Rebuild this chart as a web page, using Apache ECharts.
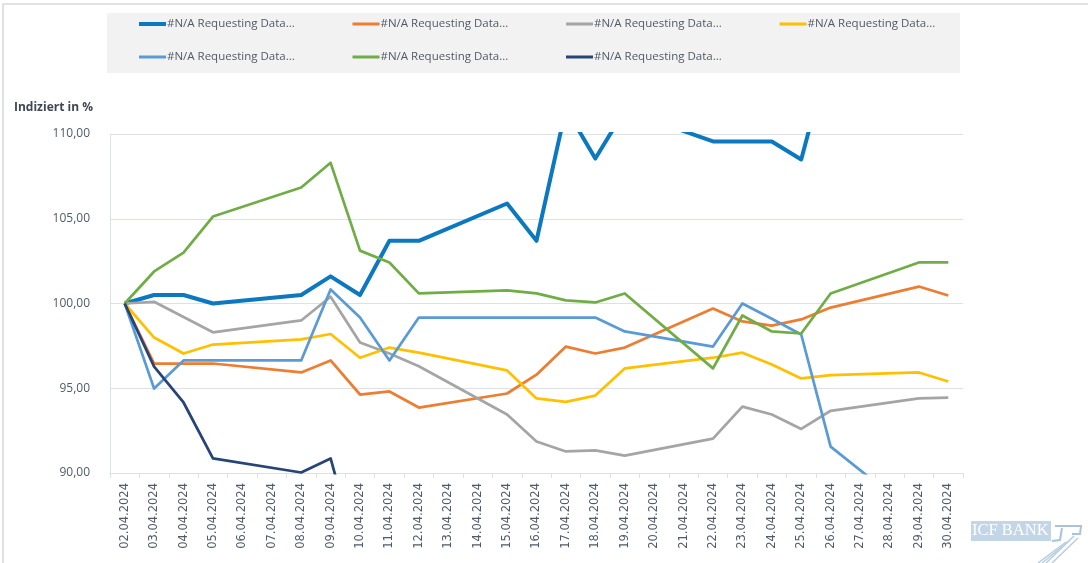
<!DOCTYPE html>
<html>
<head>
<meta charset="utf-8">
<script src="https://cdn.jsdelivr.net/npm/echarts@6/dist/echarts.min.js"></script>
<style>
  html, body { margin: 0; padding: 0; background: #fff; }
  #chart { width: 1088px; height: 563px; }
</style>
</head>
<body>
<div id="chart"></div>
<script>
const dates = [
  '02.04.2024', '03.04.2024', '04.04.2024', '05.04.2024', '06.04.2024', '07.04.2024', '08.04.2024',
  '09.04.2024', '10.04.2024', '11.04.2024', '12.04.2024', '13.04.2024', '14.04.2024', '15.04.2024',
  '16.04.2024', '17.04.2024', '18.04.2024', '19.04.2024', '20.04.2024', '21.04.2024', '22.04.2024',
  '23.04.2024', '24.04.2024', '25.04.2024', '26.04.2024', '27.04.2024', '28.04.2024', '29.04.2024',
  '30.04.2024'
]

// weekends have no quotes -> null, lines are connected across them
const s1 = [100, 100.5, 100.5, 100.0, null, null, 100.5, 101.6, 100.5, 103.7, 103.7, null, null, 105.9, 103.7, 111.5, 108.55, 111.4, null, null, 109.56, 109.56, 109.56, 108.5, 115.0, null, null, 116.0, 116.0]
const s2 = [100, 96.46, 96.46, 96.46, null, null, 95.93, 96.64, 94.63, 94.81, 93.86, null, null, 94.69, 95.8, 97.46, 97.05, 97.4, null, null, 99.7, 98.94, 98.7, 99.06, 99.76, null, null, 101.0, 100.47]
const s3 = [100, 100.1, 99.2, 98.3, null, null, 99.0, 100.4, 97.7, 97.05, 96.3, null, null, 93.45, 91.86, 91.27, 91.33, 91.03, null, null, 92.03, 93.92, 93.45, 92.6, 93.67, null, null, 94.4, 94.45]
const s4 = [100, 97.99, 97.05, 97.58, null, null, 97.88, 98.2, 96.8, 97.4, 97.1, null, null, 96.05, 94.4, 94.2, 94.57, 96.17, null, null, 96.8, 97.1, 96.4, 95.58, 95.77, null, null, 95.93, 95.4]
const s5 = [100, 94.98, 96.64, 96.64, null, null, 96.64, 100.83, 99.17, 96.64, 99.17, null, null, 99.17, 99.17, 99.17, 99.17, 98.35, null, null, 97.46, 100.0, 99.1, 98.17, 91.56, null, null, 87.4, 87.0]
const s6 = [100, 101.89, 103.0, 105.13, null, null, 106.84, 108.3, 103.12, 102.42, 100.6, null, null, 100.77, 100.6, 100.18, 100.06, 100.59, null, null, 96.17, 99.29, 98.35, 98.23, 100.59, null, null, 102.42, 102.42]
const s7 = [100, 96.28, 94.16, 90.86, null, null, 90.03, 90.86, 84.6, null, null, null, null, null, null, null, null, null, null, null, null, null, null, null, null, null, null, null, null]

const seriesData = [s1, s2, s3, s4, s5, s6, s7]
const seriesLabels = [
  '#N/A Requesting Data...', '#N/A Requesting Data...', '#N/A Requesting Data...', '#N/A Requesting Data...',
  '#N/A Requesting Data...', '#N/A Requesting Data...', '#N/A Requesting Data...'
]
const seriesKeys = ['k1', 'k2', 'k3', 'k4', 'k5', 'k6', 'k7']
const palette = ['#0B78BF', '#ED7D31', '#A5A5A5', '#FFC000', '#5B9BD5', '#70AD47', '#264478']

const yMin = 90
const yMax = 110
const yStep = 5

const textColor = '#505A68'
const gridColor = '#DDE1E6'

const chart = echarts.init(document.getElementById('chart'))

const legends = seriesKeys.map((key, i) => {
  const h = i === 0 ? 4 : 3
  const rowTop = i < 4 ? 12 : 45
  return {
    left: 134 + (i % 4) * 213.5,
    top: rowTop,
    icon: 'rect',
    itemWidth: 27,
    itemHeight: h,
    data: [key],
    formatter: () => seriesLabels[i],
    selectedMode: false,
    textStyle: {
      color: textColor,
      fontSize: 11.5,
      fontFamily: 'Open Sans',
      padding: [0, 0, 0, -4],
      lineHeight: 14
    }
  }
})

chart.setOption({
  animation: false,
  textStyle: { fontFamily: 'Open Sans' },
  title: {
    text: 'Indiziert in %',
    left: 9,
    top: 97,
    textStyle: { color: '#3F4752', fontSize: 12, fontWeight: 'bold', fontFamily: 'Open Sans' }
  },
  graphic: [
    {
      type: 'rect',
      z: -10,
      shape: { x: 3, y: 4, width: 1200, height: 700 },
      style: { fill: 'none', stroke: '#D9D9D9', lineWidth: 1.5 }
    },
    {
      type: 'rect',
      z: -5,
      shape: { x: 107, y: 13, width: 853, height: 60 },
      style: { fill: '#F2F2F2' }
    },
    {
      type: 'group',
      z: 10,
      children: [
        { type: 'rect', shape: { x: 971, y: 521, width: 80, height: 20 }, style: { fill: '#C3D6E8' } },
        { type: 'text', x: 972, y: 522, style: { text: 'ICF BANK', fill: '#FFFFFF', font: '16.5px "Liberation Serif"' } },
        { type: 'polyline', shape: { points: [[1055, 526], [1081, 526], [1080, 534], [1072, 534]] }, style: { stroke: '#A9C3DC', lineWidth: 2, fill: 'none' } },
        { type: 'polyline', shape: { points: [[1062, 528], [1060, 540], [1052, 541]] }, style: { stroke: '#A9C3DC', lineWidth: 2, fill: 'none' } },
        { type: 'line', shape: { x1: 1074, y1: 536, x2: 1046, y2: 563 }, style: { stroke: '#B7CDE2', lineWidth: 1.5 } },
        { type: 'line', shape: { x1: 1070, y1: 540, x2: 1042, y2: 563 }, style: { stroke: '#B7CDE2', lineWidth: 1.5 } },
        { type: 'line', shape: { x1: 1066, y1: 542, x2: 1038, y2: 563 }, style: { stroke: '#B7CDE2', lineWidth: 1.5 } },
        { type: 'line', shape: { x1: 1078, y1: 538, x2: 1052, y2: 563 }, style: { stroke: '#B7CDE2', lineWidth: 1.5 } }
      ]
    }
  ],
  legend: legends,
  grid: {
    left: 110,
    right: 125,
    top: 134,
    bottom: 90,
    containLabel: false
  },
  xAxis: {
    type: 'category',
    boundaryGap: true,
    data: dates,
    axisLine: { lineStyle: { color: gridColor, width: 1 } },
    axisTick: { show: true, length: 5, lineStyle: { color: gridColor } },
    axisLabel: {
      rotate: 90,
      margin: 10,
      interval: 0,
      color: textColor,
      fontSize: 11.5,
      fontFamily: 'DejaVu Sans'
    },
    splitLine: { show: false }
  },
  yAxis: {
    type: 'value',
    min: yMin,
    max: yMax,
    interval: yStep,
    axisLine: { show: true, lineStyle: { color: gridColor } },
    axisTick: { show: false },
    axisLabel: {
      margin: 20,
      color: textColor,
      fontSize: 12,
      fontFamily: 'Open Sans',
      formatter: (v) => v.toFixed(2).replace('.', ',')
    },
    splitLine: { lineStyle: { color: gridColor, width: 1 } }
  },
  series: seriesData.map((data, i) => ({
    name: seriesKeys[i],
    type: 'line',
    data,
    connectNulls: true,
    symbol: 'none',
    clip: true,
    color: palette[i],
    lineStyle: { color: palette[i], width: i === 0 ? 4 : 2.75, join: 'round' }
  }))
})
</script>
</body>
</html>
